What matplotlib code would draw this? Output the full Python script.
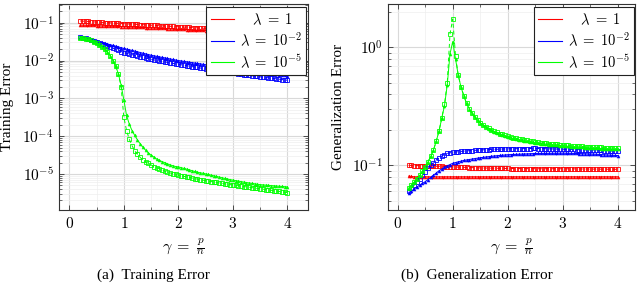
import numpy as np
import matplotlib
matplotlib.use("Agg")
import matplotlib.pyplot as plt
from matplotlib.lines import Line2D
from matplotlib.ticker import FixedLocator, FuncFormatter, NullFormatter, LogLocator, MultipleLocator

plt.rcParams['mathtext.fontset'] = 'cm'
plt.rcParams['font.family'] = ['Liberation Serif', 'DejaVu Serif']

# gamma = p / n grid (simulation points)
gamma = np.linspace(0.2, 4.0, 77)

# ---------------- Training error ----------------
train_red_solid = [
    0.0870, 0.0865, 0.0860, 0.0854, 0.0849, 0.0844, 0.0838, 0.0833, 0.0828, 0.0822,
    0.0817, 0.0812, 0.0806, 0.0801, 0.0796, 0.0790, 0.0785,
    0.0780, 0.0774, 0.0769, 0.0763, 0.0758, 0.0752, 0.0747, 0.0741, 0.0736, 0.0730,
    0.0725, 0.0719, 0.0714, 0.0708, 0.0703, 0.0697, 0.0692, 0.0686, 0.0681, 0.0675,
    0.0670, 0.0664, 0.0659, 0.0653, 0.0648, 0.0642, 0.0637, 0.0631, 0.0626, 0.0620,
    0.0617, 0.0613, 0.0610, 0.0607, 0.0603, 0.0600, 0.0597, 0.0593, 0.0590, 0.0587,
    0.0583, 0.0580, 0.0577, 0.0573, 0.0570, 0.0567, 0.0563, 0.0560, 0.0557, 0.0553,
    0.0550, 0.0547, 0.0543, 0.0540, 0.0537, 0.0533, 0.0530, 0.0527, 0.0523, 0.0520]
train_red_dashed = [
    0.111, 0.110, 0.109, 0.108, 0.106, 0.105, 0.104, 0.103, 0.102, 0.101,
    0.100, 0.099, 0.098, 0.097, 0.096, 0.095, 0.094,
    0.0932, 0.0924, 0.0916, 0.0908, 0.0900, 0.0892, 0.0884, 0.0876, 0.0868, 0.0860,
    0.0852, 0.0844, 0.0836, 0.0828, 0.0820, 0.0812, 0.0804, 0.0796, 0.0788, 0.0780,
    0.0773, 0.0766, 0.0759, 0.0752, 0.0745, 0.0738, 0.0731, 0.0724, 0.0717, 0.0710,
    0.0705, 0.0700, 0.0695, 0.0690, 0.0685, 0.0680, 0.0675, 0.0670, 0.0665, 0.0660,
    0.0655, 0.0650, 0.0645, 0.0640, 0.0635, 0.0630, 0.0625, 0.0620, 0.0615, 0.0610,
    0.0606, 0.0602, 0.0598, 0.0594, 0.0590, 0.0586, 0.0582, 0.0578, 0.0574, 0.0570]
train_blue_solid = [
    0.0427, 0.0409, 0.0392, 0.0376, 0.0361, 0.0345, 0.0331, 0.0316, 0.0302, 0.0288,
    0.0275, 0.0263, 0.0251, 0.0240, 0.0229, 0.0219, 0.0209,
    0.0200, 0.0192, 0.0185, 0.0177, 0.0170, 0.0163, 0.0156, 0.0150, 0.0144, 0.0138,
    0.01337, 0.01294, 0.01253, 0.01213, 0.01175, 0.01138, 0.01102, 0.01067, 0.01033, 0.0100,
    0.00975, 0.00951, 0.00927, 0.00904, 0.00881, 0.00859, 0.00838, 0.00817, 0.00796, 0.00776,
    0.00759, 0.00741, 0.00724, 0.00708, 0.00692, 0.00676, 0.00661, 0.00646, 0.00631, 0.00617,
    0.00603, 0.00589, 0.00575, 0.00562, 0.00550, 0.00537, 0.00525, 0.00513, 0.00501, 0.00490,
    0.00480, 0.00470, 0.00460, 0.00451, 0.00442, 0.00433, 0.00424, 0.00415, 0.00406, 0.00398]
train_blue_dashed = [
    0.0427, 0.0406, 0.0386, 0.0367, 0.0349, 0.0333, 0.0316, 0.0296, 0.0277, 0.0259,
    0.0242, 0.0226, 0.0212, 0.0198, 0.0185, 0.0173, 0.0162,
    0.01556, 0.01493, 0.01432, 0.01374, 0.01318, 0.01265, 0.01213, 0.01164, 0.01117, 0.01072,
    0.01040, 0.01009, 0.00979, 0.00951, 0.00923, 0.00895, 0.00869, 0.00843, 0.00818, 0.00794,
    0.00773, 0.00752, 0.00731, 0.00711, 0.00692, 0.00673, 0.00655, 0.00637, 0.00619, 0.00603,
    0.00587, 0.00573, 0.00558, 0.00544, 0.00531, 0.00518, 0.00505, 0.00492, 0.00480, 0.00468,
    0.00457, 0.00447, 0.00437, 0.00427, 0.00417, 0.00407, 0.00398, 0.00389, 0.00380, 0.00372,
    0.00364, 0.00356, 0.00349, 0.00342, 0.00335, 0.00328, 0.00321, 0.00315, 0.00308, 0.00302]
train_green_solid = [
    0.0400, 0.0390, 0.0378, 0.0364, 0.0342, 0.0316, 0.0288, 0.0262, 0.0234, 0.0202,
    0.0170, 0.0134, 0.0100, 0.0071, 0.00447, 0.00224, 0.00091,
    3.55e-4, 2.09e-4, 1.41e-4, 1.05e-4, 7.94e-5, 6.31e-5, 5.13e-5, 4.27e-5, 3.63e-5, 3.16e-5,
    2.82e-5, 2.51e-5, 2.29e-5, 2.14e-5, 2.00e-5, 1.86e-5, 1.74e-5, 1.66e-5, 1.58e-5, 1.55e-5,
    1.48e-5, 1.41e-5, 1.35e-5, 1.29e-5, 1.23e-5, 1.17e-5, 1.12e-5, 1.08e-5, 1.05e-5, 1.01e-5,
    9.72e-6, 9.35e-6, 8.99e-6, 8.65e-6, 8.32e-6, 8.00e-6, 7.69e-6, 7.40e-6, 7.11e-6, 6.92e-6,
    6.71e-6, 6.52e-6, 6.32e-6, 6.14e-6, 5.97e-6, 5.81e-6, 5.66e-6, 5.52e-6, 5.38e-6, 5.25e-6,
    5.18e-6, 5.11e-6, 5.04e-6, 4.97e-6, 4.90e-6, 4.83e-6, 4.76e-6, 4.70e-6, 4.63e-6, 4.57e-6]
train_green_dashed = [
    0.0400, 0.0390, 0.0378, 0.0364, 0.0342, 0.0316, 0.0288, 0.0262, 0.0234, 0.0202,
    0.0170, 0.0134, 0.0100, 0.0071, 0.00447, 0.00200, 3.2e-4,
    1.41e-4, 8.32e-5, 5.62e-5, 4.17e-5, 3.31e-5, 2.75e-5, 2.34e-5, 2.09e-5, 1.91e-5, 1.74e-5,
    1.58e-5, 1.48e-5, 1.38e-5, 1.29e-5, 1.20e-5, 1.12e-5, 1.07e-5, 1.02e-5, 9.77e-6, 9.33e-6,
    9.02e-6, 8.71e-6, 8.41e-6, 8.13e-6, 7.85e-6, 7.59e-6, 7.33e-6, 7.11e-6, 6.90e-6, 6.70e-6,
    6.52e-6, 6.34e-6, 6.17e-6, 6.00e-6, 5.83e-6, 5.68e-6, 5.52e-6, 5.37e-6, 5.25e-6, 5.13e-6,
    5.01e-6, 4.90e-6, 4.79e-6, 4.68e-6, 4.57e-6, 4.47e-6, 4.37e-6, 4.27e-6, 4.17e-6, 4.07e-6,
    3.98e-6, 3.89e-6, 3.80e-6, 3.72e-6, 3.63e-6, 3.55e-6, 3.47e-6, 3.39e-6, 3.31e-6, 3.24e-6]

# ---------------- Generalization error ----------------
gen_red_solid = [0.081, 0.0805] + [0.080] * 75
gen_red_dashed = [
    0.1000, 0.0998, 0.0996, 0.0994, 0.0992, 0.0991, 0.0990, 0.0988, 0.0986, 0.0984,
    0.0982, 0.0980, 0.0978, 0.0976, 0.0974, 0.0972, 0.0970,
    0.0968, 0.0966, 0.0964, 0.0962, 0.0960, 0.0958, 0.0956, 0.0954, 0.0952, 0.0950,
    0.0949, 0.0948, 0.0947, 0.0946, 0.0945, 0.0944, 0.0943, 0.0942, 0.0941, 0.0940,
    0.0939, 0.0939, 0.0938, 0.0938, 0.0937, 0.0937, 0.0937, 0.0936, 0.0936, 0.0936,
    0.0935, 0.0935, 0.0935, 0.0935, 0.0935, 0.0935, 0.0935, 0.0935, 0.0935, 0.0935,
    0.0934, 0.0934, 0.0933, 0.0933, 0.0932, 0.0932, 0.0931, 0.0931, 0.0930, 0.0930,
    0.0929, 0.0929, 0.0928, 0.0928, 0.0927, 0.0927, 0.0926, 0.0926, 0.0925, 0.0925]
gen_blue_solid = [
    0.0586, 0.0607, 0.0630, 0.0655, 0.0680, 0.0703, 0.0726, 0.0758, 0.0790, 0.0825,
    0.0860, 0.0900, 0.0930, 0.0962, 0.0990, 0.1015, 0.1040,
    0.1056, 0.1071, 0.1085, 0.1100, 0.1110, 0.1120, 0.1130, 0.1140, 0.1150, 0.1160,
    0.1168, 0.1176, 0.1184, 0.1192, 0.1200, 0.1206, 0.1212, 0.1218, 0.1224, 0.1230,
    0.1233, 0.1236, 0.1239, 0.1242, 0.1245, 0.1248, 0.1251, 0.1254, 0.1257, 0.1260,
    0.1261, 0.1262, 0.1263, 0.1264, 0.1265, 0.1266, 0.1267, 0.1268, 0.1269, 0.1270,
    0.1268, 0.1266, 0.1264, 0.1262, 0.1260, 0.1258, 0.1256, 0.1254, 0.1252, 0.1250,
    0.1246, 0.1242, 0.1238, 0.1234, 0.1230, 0.1226, 0.1222, 0.1218, 0.1214, 0.1210]
gen_blue_dashed = [
    0.0605, 0.0640, 0.0680, 0.0725, 0.0770, 0.0825, 0.0880, 0.0940, 0.1000, 0.1055,
    0.1110, 0.1160, 0.1200, 0.1232, 0.1260, 0.1276, 0.1290,
    0.1298, 0.1305, 0.1312, 0.1320, 0.1325, 0.1330, 0.1335, 0.1340, 0.1345, 0.1350,
    0.1353, 0.1356, 0.1359, 0.1362, 0.1365, 0.1368, 0.1371, 0.1374, 0.1377, 0.1380,
    0.1381, 0.1382, 0.1383, 0.1384, 0.1385, 0.1386, 0.1387, 0.1388, 0.1389, 0.1390,
    0.1388, 0.1386, 0.1384, 0.1382, 0.1380, 0.1378, 0.1376, 0.1374, 0.1372, 0.1370,
    0.1368, 0.1366, 0.1364, 0.1362, 0.1360, 0.1358, 0.1356, 0.1354, 0.1352, 0.1350,
    0.1347, 0.1344, 0.1341, 0.1338, 0.1335, 0.1332, 0.1329, 0.1326, 0.1323, 0.1320]
gen_green_solid = [
    0.0638, 0.068, 0.072, 0.077, 0.082, 0.089, 0.097, 0.107, 0.119, 0.135,
    0.160, 0.195, 0.250, 0.320, 0.480, 0.880, 1.12,
    0.80, 0.58, 0.46, 0.39, 0.335, 0.300, 0.275, 0.256, 0.240, 0.228,
    0.218, 0.211, 0.204, 0.198, 0.193, 0.188, 0.184, 0.181, 0.177, 0.174,
    0.1713, 0.1689, 0.1667, 0.1647, 0.1628, 0.1611, 0.1595, 0.1580, 0.1566, 0.1553,
    0.1541, 0.1530, 0.1519, 0.1509, 0.1500, 0.1491, 0.1483, 0.1475, 0.1467, 0.1460,
    0.1453, 0.1447, 0.1440, 0.1435, 0.1429, 0.1423, 0.1418, 0.1413, 0.1409, 0.1404,
    0.1400, 0.1395, 0.1391, 0.1387, 0.1384, 0.1380, 0.1376, 0.1373, 0.1370, 0.1367]
gen_green_dashed = [
    0.0638, 0.068, 0.072, 0.077, 0.082, 0.089, 0.097, 0.107, 0.119, 0.135,
    0.160, 0.195, 0.250, 0.330, 0.500, 1.30, 1.74,
    0.85, 0.58, 0.46, 0.39, 0.335, 0.300, 0.275, 0.256, 0.240, 0.228,
    0.220, 0.213, 0.206, 0.200, 0.195, 0.190, 0.186, 0.183, 0.179, 0.177,
    0.1743, 0.1719, 0.1697, 0.1677, 0.1658, 0.1641, 0.1625, 0.1610, 0.1596, 0.1583,
    0.1571, 0.1560, 0.1549, 0.1539, 0.1530, 0.1521, 0.1513, 0.1505, 0.1497, 0.1490,
    0.1483, 0.1477, 0.1470, 0.1465, 0.1459, 0.1453, 0.1448, 0.1443, 0.1439, 0.1434,
    0.1430, 0.1425, 0.1421, 0.1417, 0.1414, 0.1410, 0.1406, 0.1403, 0.1400, 0.1397]

legend_labels = [r'$\quad\lambda\;=\;1$', r'$\lambda\;=\;10^{-2}$', r'$\lambda\;=\;10^{-5}$']
colors = ['#ff0000', '#0000ff', '#00ff00']
xtick_vals = [0, 1, 2, 3, 4]
xlabel = r'$\gamma\;=\;\frac{p}{n}$'

FS = 10.5
fig = plt.figure(figsize=(6.4, 2.84), dpi=100)
W, H = 640.0, 284.0


def make_ax(x0, x1, y0, y1):
    return fig.add_axes([x0 / W, (H - y1) / H, (x1 - x0) / W, (y1 - y0) / H])


axL = make_ax(59.3, 307.5, 4, 210)
axR = make_ax(388.0, 635.0, 4, 210)


def draw(ax, series):
    for (solid, dashed), c in zip(series, colors):
        ax.plot(gamma, dashed, color=c, lw=0.7, ls=(0, (4, 3)),
                marker='s', ms=3.0, mfc='none', mec=c, mew=0.6, zorder=3)
        ax.plot(gamma, solid, color=c, lw=0.7, ls='-',
                marker='^', ms=2.2, mfc=c, mec=c, mew=0.3, zorder=3)


def style(ax, xlim, ylim):
    ax.set_yscale('log')
    ax.set_xlim(*xlim)
    ax.set_ylim(*ylim)
    ax.xaxis.set_major_locator(FixedLocator(xtick_vals))
    ax.xaxis.set_major_formatter(FuncFormatter(lambda v, p: r'$%d$' % round(v)))
    ax.xaxis.set_minor_locator(MultipleLocator(0.5))
    ax.yaxis.set_major_locator(LogLocator(base=10, numticks=20))
    ax.yaxis.set_minor_locator(LogLocator(base=10, subs=np.arange(2, 10), numticks=20))
    ax.yaxis.set_major_formatter(FuncFormatter(lambda v, p: r'$10^{%d}$' % round(np.log10(v))))
    ax.yaxis.set_minor_formatter(NullFormatter())
    ax.tick_params(which='both', direction='in', top=True, right=True,
                   color='#333333', labelsize=11)
    ax.tick_params(which='major', length=3.5, width=0.6, pad=4)
    ax.tick_params(which='minor', length=2.0, width=0.5)
    ax.grid(which='major', color='#d9d9d9', lw=0.8, zorder=0)
    ax.grid(which='minor', color='#eeeeee', lw=0.5, zorder=0)
    ax.set_axisbelow(True)
    for s in ax.spines.values():
        s.set_linewidth(0.8)
        s.set_color('#333333')
    ax.set_xlabel(xlabel, fontsize=11.5)
    ax.xaxis.set_label_coords(0.5, -0.125)
    handles = [Line2D([], [], color=c, lw=0.8) for c in colors]
    leg = ax.legend(handles, legend_labels, loc='upper right', bbox_to_anchor=(0.995, 0.985),
                    borderaxespad=0, fontsize=FS, fancybox=False, framealpha=1,
                    edgecolor='#222222', handlelength=1.6, handletextpad=0.4,
                    labelspacing=0.25, borderpad=0.3)
    leg.get_frame().set_linewidth(0.8)
    leg.set_zorder(10)


draw(axL, [(train_red_solid, train_red_dashed),
           (train_blue_solid, train_blue_dashed),
           (train_green_solid, train_green_dashed)])
draw(axR, [(gen_red_solid, gen_red_dashed),
           (gen_blue_solid, gen_blue_dashed),
           (gen_green_solid, gen_green_dashed)])

style(axL, (-0.184, 4.37), (1.12e-6, 0.312))
style(axR, (-0.176, 4.31), (0.0418, 2.33))

fig.text(8.0 / W, (H - 107) / H, 'Training Error', rotation=90, ha='center', va='center', fontsize=11)
fig.text(338.5 / W, (H - 107) / H, 'Generalization Error', rotation=90, ha='center', va='center', fontsize=11)

fig.text(153.8 / W, (H - 275) / H, '(a)  Training Error', ha='center', va='center', fontsize=11)
fig.text(477.0 / W, (H - 275) / H, '(b)  Generalization Error', ha='center', va='center', fontsize=11)

fig.savefig('out.png', dpi=100)
